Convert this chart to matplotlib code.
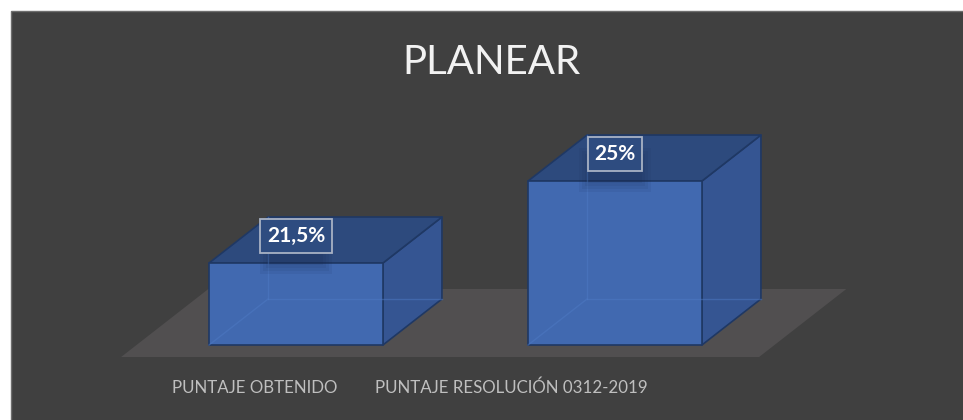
import matplotlib
matplotlib.use("Agg")
import matplotlib.pyplot as plt
from matplotlib.patches import Rectangle, Polygon
from matplotlib.transforms import IdentityTransform
from matplotlib import font_manager
import numpy as np

# ---- data ----
categories = ["PUNTAJE OBTENIDO", "PUNTAJE RESOLUCIÓN 0312-2019"]
values = [21.5, 25.0]
value_labels = ["21,5%", "25%"]
title = "PLANEAR"
y_min, y_max = 18, 26

# ---- layout / style ----
W, H, DPI = 963, 420, 100
FONT = ["Lato", "DejaVu Sans"]
BG = "#404040"
FRONT = "#4169b0"
TOP = "#2d4a7d"
SIDE = "#355592"
EDGE = "#1f3864"
FLOOR = "#514f50"
bar_width = 0.545
depth = np.array([59.0, 46.0])          # bar depth in display px
floor_front, floor_back = -12.0, 56.0   # floor extent along depth (px of y)
label_x_px = [255, 511]                 # category label positions (perspective)
label_y_px = 388

names = {f.name for f in font_manager.fontManager.ttflist}
if "Liberation Sans Narrow" in names:
    CAT_FONT = dict(family=["Liberation Sans Narrow", "DejaVu Sans"], fontsize=14.5)
else:
    CAT_FONT = dict(family=FONT, fontsize=12.2)

fig = plt.figure(figsize=(W / DPI, H / DPI), dpi=DPI)
fig.patch.set_facecolor("white")
fig.add_artist(Rectangle((11 / W, -0.05), 1.05, 1 - 11 / H + 0.05,
                         transform=fig.transFigure, facecolor=BG,
                         edgecolor="#6e6e6e", lw=1.0, zorder=0))

ax = fig.add_axes([136.5 / W, (H - 345) / H, 638 / W, 187.4 / H])
ax.set_xlim(-0.5, len(categories) - 0.5)
ax.set_ylim(y_min, y_max)
ax.axis("off")
ax.patch.set_alpha(0)

fig.canvas.draw()
T = ax.transData
ident = IdentityTransform()
dirv = depth / depth[1]


def P(x, y):
    return np.array(T.transform((x, y)))


def poly(pts, fc, ec=EDGE, lw=1.2, z=2, alpha=1.0):
    ax.add_patch(Polygon(np.array(pts), closed=True, facecolor=fc, edgecolor=ec,
                         lw=lw, transform=ident, clip_on=False, zorder=z,
                         alpha=alpha, joinstyle="round"))


# floor
xl, xr = ax.get_xlim()
fl = P(xl, y_min)
fr = P(xr, y_min)
poly([fl + dirv * floor_front, fr + dirv * floor_front,
      fr + dirv * floor_back, fl + dirv * floor_back], FLOOR, ec="none", z=1)

# bars
for i, v in enumerate(values):
    flb = P(i - bar_width / 2, y_min)
    frb = P(i + bar_width / 2, y_min)
    flt = P(i - bar_width / 2, v)
    frt = P(i + bar_width / 2, v)
    poly([frb, frt, frt + depth, frb + depth], SIDE, z=2)
    poly([flt, frt, frt + depth, flt + depth], TOP, z=2)
    poly([flb, frb, frt, flt], FRONT, z=3)
    # faint hidden edges seen through the translucent front
    for a, b in [(flb, flb + depth), (flb + depth, flt + depth), (flb + depth, frb + depth)]:
        ax.plot([a[0], b[0]], [a[1], b[1]], color="#4e7ac4", lw=1.0, alpha=0.5,
                transform=ident, clip_on=False, zorder=4)
    # soft shadow under label
    c = P(i, v) + np.array([0, 27])
    for k, a in enumerate([0.08, 0.08, 0.08, 0.08]):
        r = 6 + 6 * k
        ax.add_patch(Rectangle((c[0] - 24 - r / 2, c[1] - 30 - r / 2 + 4), 48 + r, 20 + r,
                               transform=ident, facecolor="#16264a", edgecolor="none",
                               alpha=a, zorder=4, clip_on=False))
    ax.annotate(value_labels[i], xy=(i, v), xytext=(0, 27), textcoords="offset pixels",
                ha="center", va="center", color="white", fontsize=15,
                fontweight="bold", family=FONT, zorder=6,
                bbox=dict(boxstyle="square,pad=0.32", fc="#2e4c80", ec="#a8b2c4", lw=1.3))

# category labels
for name, xp in zip(categories, label_x_px):
    fig.text(xp / W, 1 - label_y_px / H, name, ha="center", va="center",
             color="#bfbfbf", **CAT_FONT)

# title
fig.text(492 / W, 1 - 62 / H, title, ha="center", va="center", color="#f2f2f2",
         fontsize=29, family=FONT)

fig.savefig("out.png", dpi=DPI, facecolor=fig.get_facecolor())
